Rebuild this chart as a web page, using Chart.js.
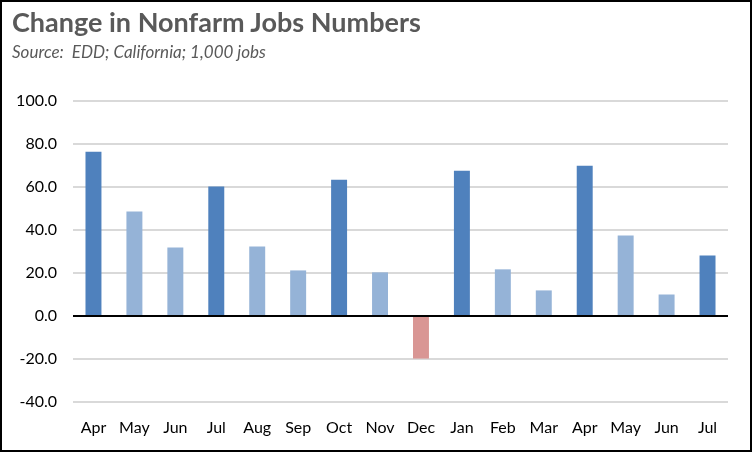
<!DOCTYPE html>
<html>
<head>
<meta charset="utf-8">
<script src="https://cdn.jsdelivr.net/npm/chart.js@4"></script>
<style>
  html, body { margin: 0; padding: 0; background: #fff; }
  #wrap { position: relative; width: 752px; height: 452px; box-sizing: border-box; border: 2px solid #000; overflow: hidden; }
  #c { position: absolute; left: -2px; top: -2px; }
  #title { position: absolute; left: 10px; top: 3px; font-family: Lato, "Open Sans", sans-serif; font-weight: bold; font-size: 27px; color: #595959; white-space: nowrap; }
  #sub { position: absolute; left: 10px; top: 39px; font-family: Lato, "Open Sans", sans-serif; font-style: italic; font-size: 17px; color: #595959; white-space: nowrap; }
</style>
</head>
<body>
<div id="wrap">
  <canvas id="c" width="752" height="452"></canvas>
  <div id="title">Change in Nonfarm Jobs Numbers</div>
  <div id="sub">Source:&nbsp; EDD; California; 1,000 jobs</div>
</div>
<script>
const categories = ["Apr","May","Jun","Jul","Aug","Sep","Oct","Nov","Dec","Jan","Feb","Mar","Apr","May","Jun","Jul"];
const jobChange = [76.4, 48.6, 31.9, 60.2, 32.3, 21.2, 63.4, 20.3, -19.8, 67.6, 21.7, 11.9, 69.9, 37.4, 10.0, 28.1];
const quarterEnd = [true, false, false, true, false, false, true, false, false, true, false, false, true, false, false, true];
const yTicks = [-40, -20, 0, 20, 40, 60, 80, 100];

const DARK = '#4F81BD', LIGHT = '#95B3D7', RED = '#D99694';
const barColors = jobChange.map((v, i) => v < 0 ? RED : (quarterEnd[i] ? DARK : LIGHT));

new Chart(document.getElementById('c'), {
  type: 'bar',
  data: {
    labels: categories,
    datasets: [{
      data: jobChange,
      backgroundColor: barColors,
      borderWidth: 0,
      barPercentage: 0.78,
      categoryPercentage: 0.5
    }]
  },
  options: {
    responsive: false,
    animation: false,
    devicePixelRatio: 1,
    layout: { padding: { left: 0, top: 101, right: 24, bottom: 0 } },
    plugins: { legend: { display: false }, tooltip: { enabled: false }, title: { display: false } },
    scales: {
      x: {
        grid: { display: false, drawTicks: false },
        border: { display: false },
        ticks: { color: '#000', padding: 16, maxRotation: 0, autoSkip: false,
                 font: { family: "Lato, 'Open Sans', sans-serif", size: 16 } },
        afterFit: s => { s.height = 50; }
      },
      y: {
        min: Math.min(...yTicks),
        max: Math.max(...yTicks),
        afterBuildTicks: s => { s.ticks = yTicks.map(v => ({ value: v })); },
        grid: {
          drawTicks: false,
          color: c => c.tick && c.tick.value === 0 ? '#000' : '#D9D9D9',
          lineWidth: 2
        },
        border: { display: false },
        ticks: { color: '#000', padding: 16, callback: v => Number(v).toFixed(1),
                 font: { family: "Lato, 'Open Sans', sans-serif", size: 16 } },
        afterFit: s => { s.width = 73; }
      }
    }
  }
});
</script>
</body>
</html>
